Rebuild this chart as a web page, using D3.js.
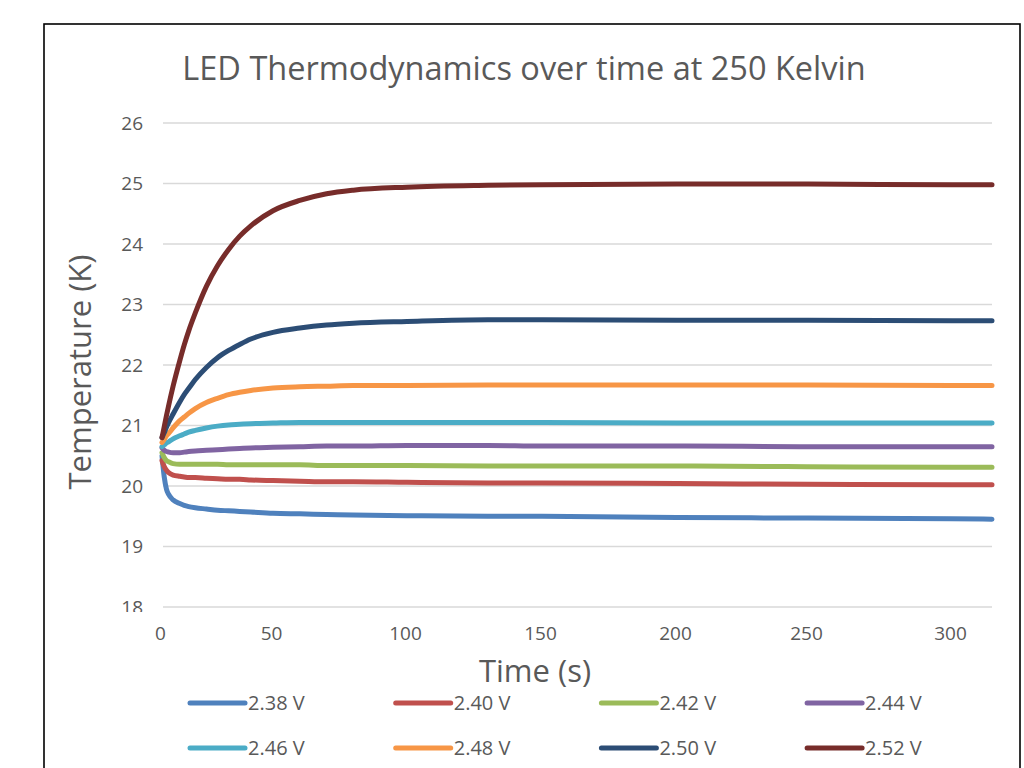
<!DOCTYPE html>
<html><head><meta charset="utf-8">
<script src="https://cdn.jsdelivr.net/npm/d3@7"></script>
<style>
body{margin:0;background:#fff}
text{font-family:"Open Sans","Noto Sans",sans-serif;fill:#595959}
</style>
</head><body>
<svg id="chart" width="1024" height="768"></svg>
<script>
// ---- data ----
const chartTitle = "LED Thermodynamics over time at 250 Kelvin";
const xTitle = "Time (s)";
const yTitle = "Temperature (K)";
const times = [0,1,2,3,5,8,10,12,15,20,25,30,35,40,50,60,70,80,100,130,150,200,250,300,315];
const seriesNames = ["2.38 V","2.40 V","2.42 V","2.44 V","2.46 V","2.48 V","2.50 V","2.52 V"];
const seriesColors = ["#4F81BD","#C0504D","#9BBB59","#8064A2","#4BACC6","#F79646","#2C4D75","#772C2A"];
const v238 = [20.50,20.15,19.95,19.86,19.77,19.71,19.68,19.66,19.64,19.62,19.60,19.59,19.58,19.57,19.55,19.54,19.53,19.52,19.51,19.50,19.50,19.48,19.47,19.46,19.45];
const v240 = [20.42,20.32,20.26,20.22,20.18,20.16,20.15,20.14,20.14,20.13,20.12,20.11,20.11,20.10,20.09,20.08,20.07,20.07,20.06,20.05,20.05,20.04,20.03,20.02,20.02];
const v242 = [20.55,20.47,20.42,20.40,20.37,20.36,20.36,20.36,20.36,20.36,20.36,20.35,20.35,20.35,20.35,20.35,20.34,20.34,20.34,20.33,20.33,20.33,20.32,20.31,20.31];
const v244 = [20.63,20.59,20.57,20.56,20.55,20.55,20.56,20.57,20.58,20.59,20.60,20.61,20.62,20.63,20.64,20.65,20.66,20.66,20.67,20.67,20.66,20.66,20.65,20.65,20.65];
const v246 = [20.65,20.68,20.71,20.73,20.78,20.83,20.86,20.89,20.92,20.96,20.99,21.01,21.02,21.03,21.04,21.05,21.05,21.05,21.05,21.05,21.05,21.04,21.04,21.04,21.04];
const v248 = [20.72,20.77,20.83,20.87,20.96,21.08,21.14,21.20,21.28,21.38,21.45,21.51,21.55,21.58,21.62,21.64,21.65,21.66,21.66,21.67,21.67,21.67,21.67,21.66,21.66];
const v250 = [20.80,20.88,20.97,21.05,21.19,21.39,21.51,21.61,21.76,21.96,22.12,22.24,22.34,22.43,22.54,22.61,22.66,22.69,22.72,22.75,22.75,22.74,22.74,22.73,22.73];
const v252 = [20.80,20.98,21.16,21.33,21.65,22.07,22.33,22.56,22.86,23.30,23.64,23.91,24.13,24.30,24.55,24.72,24.83,24.89,24.94,24.97,24.98,24.99,24.99,24.98,24.98];
const yTicks = [18,19,20,21,22,23,24,25,26];
const xTicks = [0,50,100,150,200,250,300];
const xMax = 315;

const seriesValues = [v238,v240,v242,v244,v246,v248,v250,v252];

// ---- drawing ----
const svg = d3.select("#chart");

// outer frame
svg.append("rect").attr("x",44).attr("y",24).attr("width",976).attr("height",780)
  .attr("fill","#fff").attr("stroke","#000").attr("stroke-width",1.6);

const x = d3.scaleLinear()
  .domain([...xTicks, xMax])
  .range([162,273,407,542,677,808,952,992]);
const y = d3.scaleLinear().domain([18,26]).range([607,123]);

// gridlines
svg.append("g").selectAll("line").data(yTicks).join("line")
  .attr("x1",x(0)+1).attr("x2",x(xMax))
  .attr("y1",d=>y(d)).attr("y2",d=>y(d))
  .attr("stroke","#d9d9d9").attr("stroke-width",1.5);

// y tick labels (clipped at the bottom like the reference)
svg.append("defs").append("clipPath").attr("id","yclip")
  .append("rect").attr("x",-70).attr("y",100).attr("width",80).attr("height",512);
const yAxis = d3.axisLeft(y).tickValues(yTicks).tickSize(0).tickPadding(0).tickFormat(d3.format("d"));
const gy = svg.append("g").attr("transform","translate(143,0)").attr("clip-path","url(#yclip)").call(yAxis);
gy.select(".domain").remove();
gy.selectAll("text").style("font-size","19px").attr("fill","#595959")
  .style("font-family","'Open Sans','Noto Sans',sans-serif");

// x tick labels
const xAxis = d3.axisBottom(x).tickValues(xTicks).tickSize(0).tickPadding(0).tickFormat(d3.format("d"));
const gx = svg.append("g").attr("transform","translate(-2,626)").call(xAxis);
gx.select(".domain").remove();
gx.selectAll("text").style("font-size","19px").attr("fill","#595959")
  .style("font-family","'Open Sans','Noto Sans',sans-serif");

// series lines
const line = d3.line().x(d=>x(d[0])).y(d=>y(d[1])).curve(d3.curveMonotoneX);
svg.append("g").selectAll("path").data(seriesValues).join("path")
  .attr("d",vals=>line(times.map((t,i)=>[t,vals[i]])))
  .attr("fill","none")
  .attr("stroke",(d,i)=>seriesColors[i])
  .attr("stroke-width",5)
  .attr("stroke-linejoin","round").attr("stroke-linecap","round");

// titles
svg.append("text").attr("x",524).attr("y",80).attr("text-anchor","middle")
  .style("font-size","32.5px").text(chartTitle);
svg.append("text").attr("x",535).attr("y",682).attr("text-anchor","middle")
  .style("font-size","31px").text(xTitle);
svg.append("text").attr("transform","translate(91,372) rotate(-90)").attr("text-anchor","middle")
  .style("font-size","31px").text(yTitle);

// legend
const legend = svg.append("g");
const items = legend.selectAll("g").data(seriesNames).join("g")
  .attr("transform",(d,i)=>`translate(${190 + (i%4)*205.7},${i<4 ? 703 : 748})`);
items.append("line").attr("x1",0).attr("x2",55).attr("y1",0).attr("y2",0)
  .attr("stroke",(d,i)=>seriesColors[i]).attr("stroke-width",5).attr("stroke-linecap","round");
items.append("text").attr("x",58).attr("y",0).attr("dy","0.35em")
  .style("font-size","20px").text(d=>d);
</script>
</body></html>
